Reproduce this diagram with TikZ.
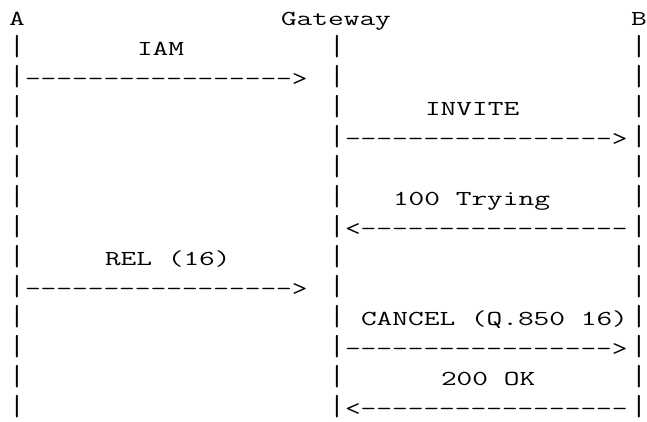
\documentclass[tikz,border=0pt]{standalone}
\usepackage{graphicx}
\tikzset{
  ascii/.style={anchor=base west, inner sep=0pt, outer sep=0pt,
    font=\ttfamily\fontsize{21.4}{21.4}\selectfont},
  asciimid/.style={ascii, anchor=base},
}
\newcommand{\widett}[1]{\scalebox{1.43}[1]{#1}}
\newcommand{\tallbar}{\scalebox{1.43}[1.36]{|}}
\newcommand{\dashes}[1]{\foreach \k in {1,...,#1}{-}}
% text at column #2, line #3 of the character grid
\def\putcell(#1)(#2,#3)#4{\node[ascii] (#1) at ({9+16*#2},{25+30*#3}) {\widett{#4}};}
% one character centred in its cell, no width of its own
\def\putchar(#1)(#2,#3)#4{\node[asciimid] (#1) at ({17+16*#2},{25+30*#3}) {\makebox[0pt]{#4}};}

\begin{document}
\begin{tikzpicture}[x=1bp,y=-1bp]
		%%%%% START %%%%%
		\useasboundingbox (0,0) rectangle (647,421);
		
		\putchar(A)(0,0){\widett{A}}
		\putcell(gw)(17,0){Gateway}
		\putchar(B)(38.87,0){\widett{B}}
		
		\foreach \r in {1,...,13} {
			\putchar(la\r)(0,\r){\tallbar}
			\putchar(lg\r)(20,\r){\tallbar}
			\putchar(lb\r)(38.87,\r){\tallbar}
		}
		
		\putcell(iam)(8,1){IAM}
		\putcell(iamarr)(1,2){\dashes{17}>}
		
		\putcell(invite)(26,3){INVITE}
		\putcell(invitearr)(21,4){\dashes{17}>}
		
		\putcell(trying)(24,6){100 Trying}
		\putcell(tryingarr)(21,7){<\dashes{17}}
		
		\putcell(rel)(6,8){REL (16)}
		\putcell(relarr)(1,9){\dashes{17}>}
		
		\putcell(cancel)(22,10){CANCEL (Q.850 16)}
		\putcell(cancelarr)(21,11){\dashes{17}>}
		
		\putcell(ok)(27,12){200 OK}
		\putcell(okarr)(21,13){<\dashes{17}}
		
		%%%%% END %%%%%
	\end{tikzpicture}
\end{document}
